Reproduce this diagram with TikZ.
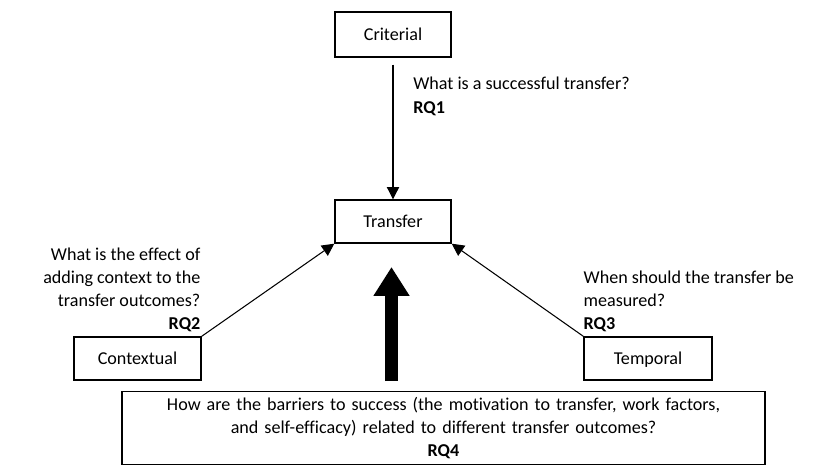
\documentclass[tikz,border=0pt]{standalone}
\usepackage{fontspec}
\setmainfont{Carlito}[Ligatures=NoCommon]
\usepackage{tikz}
\usetikzlibrary{arrows.meta, positioning, calc}
\tikzset{
    % Node styles
    framebox/.style={
        rectangle,
        draw=black,
        line width=0.8pt,
        inner sep=0pt,
        text centered,
        font=\fontsize{10.3pt}{13.2pt}\selectfont
    },
    labelbox/.style={
        framebox,
        minimum height=0.86cm,
        text height=8pt,
        text depth=1.2pt
    },
    question/.style={
        inner sep=0pt,
        font=\fontsize{10.3pt}{13.2pt}\selectfont
    },
    % Arrow styles
    myarrow/.style={
        -{Triangle[length=7pt,width=7pt]},
        line width=0.6pt,
        black
    },
    fatarrow/.style={
        -{Triangle[length=16.5pt,width=19.5pt]},
        line width=7.5pt,
        black
    }
}
\begin{document}
\begin{tikzpicture}[x=0.02cm, y=-0.02cm]
    \useasboundingbox (0,0) rectangle (827,469);
    % Main boxes
    \node[labelbox, minimum width=2.32cm, minimum height=0.9cm] (criterial) at (393,34.5) {Criterial};
    \node[labelbox, minimum width=2.32cm] (transfer) at (393,221.5) {Transfer};
    \node[labelbox, minimum width=2.54cm] (contextual) at (137.5,358.5) {Contextual};
    \node[labelbox, minimum width=2.56cm] (temporal) at (648,358.5) {Temporal};
    \node[framebox, minimum width=12.86cm, minimum height=1.46cm, text width=12.5cm,
          align=center] (barriers) at (443.5,428)
        {How are the barriers to success (the motivation to transfer, work factors,\\
         and self-efficacy) related to different transfer outcomes?\\
         \textbf{RQ4}};

    % Questions
    \node[question, anchor=north west, align=left] (q1) at (413,77)
        {What is a successful transfer?\\\textbf{RQ1}};
    \node[question, anchor=south east, align=right] (q2) at ($(contextual.north east)+(-1,-4)$)
        {What is the effect of\\adding context to the\\transfer outcomes?\\\textbf{RQ2}};
    \node[question, anchor=south west, align=left] (q3) at ($(temporal.north west)+(0,-4)$)
        {When should the transfer be\\measured?\\\textbf{RQ3}};

    % Connectors
    \coordinate (crit-start) at ($(criterial.south)+(0,7)$);
    \draw[myarrow] (crit-start) -- (transfer.north);
    \draw[myarrow] (contextual.north east) -- (transfer.south west);
    \draw[myarrow] (temporal.north west) -- (transfer.south east);

    % Fat arrow
    \coordinate (fat-base) at (391.5,381);
    \coordinate (fat-tip) at (391.5,267);
    \draw[fatarrow] (fat-base) -- (fat-tip);
\end{tikzpicture}
\end{document}
